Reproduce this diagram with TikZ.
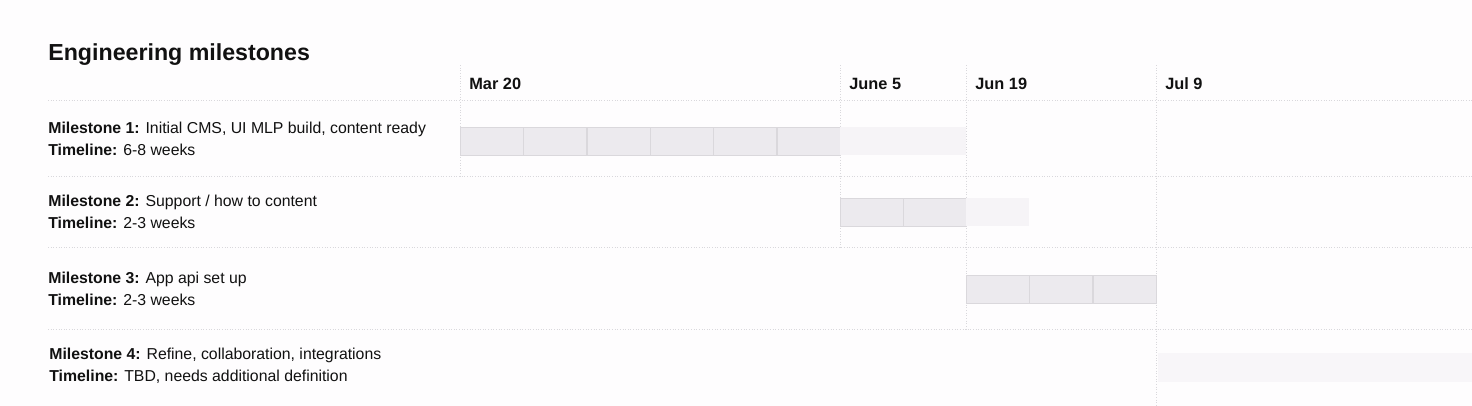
\documentclass[tikz,border=0pt]{standalone}
\usepackage{fontspec}
\setmainfont{Liberation Sans}
\usetikzlibrary{positioning}

\definecolor{paper}{HTML}{FEFDFE}
\definecolor{gridgray}{HTML}{D9D8DC}
\definecolor{barfill}{HTML}{ECEAEE}
\definecolor{barline}{HTML}{DAD8DC}
\definecolor{barpale}{HTML}{F6F4F7}
\definecolor{barpaler}{HTML}{F8F6F9}
\definecolor{inkblack}{HTML}{111111}

\begin{document}
\begin{tikzpicture}[x=0.02cm,y=-0.02cm,
            every node/.style={text=inkblack},
            grid/.style={gridgray, densely dotted, line width=0.5pt},
            cell/.style={draw=barline, fill=barfill, line width=0.6pt, anchor=north west,
              minimum width=1.26cm, minimum height=0.56cm, inner sep=0pt},
            date/.style={anchor=base west, font=\fontsize{9.3}{10}\selectfont\bfseries},
            label/.style={anchor=base west, align=left, font=\fontsize{9}{12.5}\selectfont}]
            \fill [paper] (0,0) rectangle (1472,406);
            \useasboundingbox (0,0) rectangle (1472,406);

            \node [anchor=base west, font=\fontsize{13.2}{14}\selectfont\bfseries, inner sep=0pt] (title) at (48,60) {Engineering milestones};

            \draw [grid] (48,100) -- (1472,100);
            \draw [grid] (48,176) -- (1472,176);
            \draw [grid] (48,247) -- (1472,247);
            \draw [grid] (48,329) -- (1472,329);
            \draw [grid] (460,65) -- (460,176);
            \draw [grid] (840,65) -- (840,247);
            \draw [grid] (966,65) -- (966,329);
            \draw [grid] (1156,65) -- (1156,406);

             \node [date, inner sep=0pt] (mar20) at (469,89) {Mar 20};
             \node [date, inner sep=0pt] (june5) at (849,89) {June 5};
             \node [date, inner sep=0pt] (jun19) at (975,89) {Jun 19};
             \node [date, inner sep=0pt] (jul9) at (1165,89) {Jul 9};

             \node [label, inner sep=0pt] (ms1) at (48,155) {\textbf{Milestone 1:} Initial CMS, UI MLP build, content ready\\\textbf{Timeline:} 6-8 weeks};
             \node [label, inner sep=0pt] (ms2) at (48,228) {\textbf{Milestone 2:} Support / how to content\\\textbf{Timeline:} 2-3 weeks};
             \node [label, inner sep=0pt] (ms3) at (48,305) {\textbf{Milestone 3:} App api set up\\\textbf{Timeline:} 2-3 weeks};
             \node [label, inner sep=0pt] (ms4) at (49,381) {\textbf{Milestone 4:} Refine, collaboration, integrations\\\textbf{Timeline:} TBD, needs additional definition};

             \foreach \i in {0,...,5}
                \node [cell] (a\i) at (460+63.33*\i,127) {};
             \fill [barpale] (840,127) rectangle (966,155);

             \foreach \i in {0,1}
                \node [cell] (b\i) at (840+63*\i,198) {};
             \fill [barpale] (966,198) rectangle (1029,226);

             \foreach \i in {0,...,2}
                \node [cell] (c\i) at (966+63.33*\i,275) {};

             \fill [barpaler] (1158,353) rectangle (1472,382);
         \end{tikzpicture}
\end{document}
